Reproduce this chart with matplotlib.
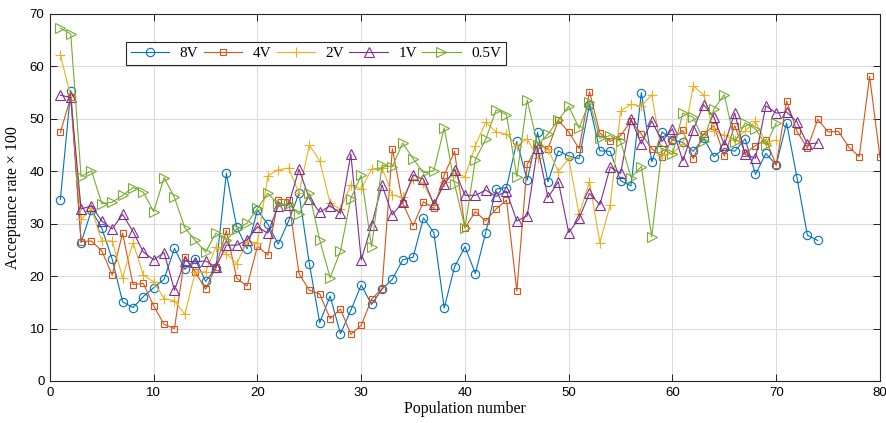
import numpy as np
import matplotlib
matplotlib.use("Agg")
import matplotlib.pyplot as plt

# Acceptance rate per population
labels = ["8V", "4V", "2V", "1V", "0.5V"]
colors = ["#0072BD", "#D95319", "#EDB120", "#7E2F8E", "#77AC30"]
markers = ["o", "s", "+", "^", ">"]
msizes = [6, 4.8, 6.5, 6.5, 6.5]

v8 = [34.6, 55.4, 26.4, 32.6, 29.1, 23.2, 15.1, 14.0, 16.1, 17.8,
      19.4, 25.3, 21.3, 23.2, 19.0, 21.5, 39.6, 29.4, 25.2, 32.6,
      29.9, 26.1, 30.5, 35.8, 22.4, 11.1, 16.2, 9.0, 13.5, 18.3,
      14.6, 17.5, 19.4, 23.1, 23.6, 31.1, 28.3, 13.9, 21.8, 25.6,
      20.5, 28.3, 36.6, 36.9, 45.7, 38.3, 47.4, 38.0, 43.9, 42.9,
      42.4, 52.7, 43.9, 43.8, 38.2, 37.2, 55.0, 41.8, 47.5, 46.0,
      45.5, 43.8, 46.3, 42.8, 44.4, 43.8, 46.2, 39.4, 43.4, 41.2,
      49.2, 38.8, 27.8, 26.8]

v4 = [47.4, 54.1, 26.6, 26.7, 24.8, 20.2, 28.2, 18.4, 18.6, 14.3,
      10.8, 10.0, 23.7, 20.8, 17.5, 21.8, 28.7, 19.6, 18.1, 25.7,
      24.0, 34.6, 34.6, 20.5, 17.3, 16.6, 11.9, 13.7, 8.9, 10.6,
      15.6, 17.6, 44.3, 33.9, 29.6, 34.2, 32.9, 39.3, 43.8, 29.2,
      32.3, 30.5, 32.8, 34.5, 17.2, 41.3, 45.0, 44.3, 49.7, 47.5,
      44.3, 55.2, 47.3, 45.7, 46.8, 49.6, 47.1, 44.3, 42.8, 46.0,
      47.8, 42.4, 47.1, 48.7, 42.9, 48.7, 43.4, 44.9, 46.0, 41.2,
      53.4, 47.6, 44.4, 49.9, 47.5, 47.6, 44.6, 42.8, 58.1, 42.7]

v2 = [62.2, 54.3, 30.8, 32.9, 26.7, 26.7, 19.7, 26.4, 20.2, 18.9,
      15.7, 15.3, 12.7, 20.8, 20.8, 25.6, 24.3, 22.4, 26.6, 26.4,
      39.1, 40.3, 40.6, 35.8, 45.0, 42.0, 33.9, 32.8, 37.4, 36.6,
      40.4, 40.7, 35.5, 35.0, 38.5, 37.7, 33.7, 37.9, 39.6, 39.0,
      44.9, 49.4, 47.5, 47.1, 44.8, 46.2, 42.5, 44.3, 39.9, 42.5,
      31.8, 38.0, 26.4, 33.6, 51.5, 52.8, 52.4, 54.6, 43.1, 43.4,
      45.2, 56.3, 54.6, 47.6, 46.9, 46.0, 47.7, 49.5, 45.4, 46.0]

v1 = [54.5, 54.1, 32.8, 33.4, 30.5, 29.0, 31.8, 28.5, 24.6, 23.1,
      24.5, 17.3, 22.9, 22.7, 22.9, 21.7, 25.9, 25.9, 26.9, 29.4,
      28.2, 33.4, 33.6, 40.4, 34.8, 32.2, 33.4, 32.0, 43.3, 23.1,
      29.7, 37.4, 31.7, 34.1, 39.3, 38.5, 33.7, 37.5, 40.3, 35.4,
      35.4, 36.4, 35.2, 36.2, 30.5, 31.5, 44.5, 35.0, 38.0, 28.3,
      31.0, 35.8, 33.6, 40.8, 39.6, 50.0, 45.2, 49.6, 45.7, 48.1,
      42.0, 47.9, 52.7, 50.3, 45.0, 51.1, 43.2, 42.5, 52.5, 51.1,
      51.3, 49.4, 45.2, 45.4]

v05 = [67.3, 66.2, 39.0, 40.1, 33.8, 34.1, 35.4, 36.9, 36.0, 32.3,
       38.8, 35.0, 29.2, 26.8, 24.6, 28.2, 26.9, 29.0, 30.1, 32.9,
       35.8, 33.7, 33.7, 31.8, 35.8, 26.9, 19.7, 24.8, 34.8, 39.2,
       25.6, 41.1, 40.9, 45.4, 42.4, 39.7, 40.1, 48.3, 37.5, 29.2,
       42.2, 46.1, 51.7, 50.8, 39.0, 53.6, 45.0, 47.1, 49.8, 52.4,
       48.2, 53.3, 46.3, 46.8, 45.7, 38.8, 40.9, 27.5, 44.4, 43.2,
       51.1, 50.3, 45.8, 51.9, 54.6, 45.5, 49.2, 48.1, 45.0, 49.2]

series = [v8, v4, v2, v1, v05]

serif = ["Liberation Serif", "DejaVu Serif"]
tickfont = ["Liberation Sans Narrow", "Liberation Sans", "DejaVu Sans"]

fig = plt.figure(figsize=(8.86, 4.23), dpi=100)
ax = fig.add_axes([0.0564, 0.0993, 0.9368, 0.8677])

for vals, lab, c, m, ms in zip(series, labels, colors, markers, msizes):
    x = np.arange(1, len(vals) + 1)
    ax.plot(x, vals, color=c, marker=m, markersize=ms,
            markerfacecolor="none", markeredgecolor=c, markeredgewidth=0.8,
            linewidth=0.8, label=lab)

ax.set_xlim(0, 80)
ax.set_ylim(0, 70)
ax.set_xticks(np.arange(0, 81, 10))
ax.set_yticks(np.arange(0, 71, 10))
ax.grid(True, color="#dcdcdc", linewidth=0.8)
ax.set_axisbelow(True)
ax.tick_params(direction="in", top=True, right=True, length=5, width=0.6,
               labelsize=9.5, pad=4)
for t in ax.get_xticklabels() + ax.get_yticklabels():
    t.set_family(tickfont)
for s in ax.spines.values():
    s.set_linewidth(0.8)
    s.set_color("#262626")

ax.set_xlabel("Population number", family=serif, fontsize=11.5, labelpad=2)
ax.set_ylabel("Acceptance rate \u00d7 100", family=serif, fontsize=11.5, labelpad=6)

leg = ax.legend(loc="upper left", bbox_to_anchor=(0.092, 0.924), ncol=5,
                prop={"family": serif, "size": 11}, fancybox=False,
                framealpha=1, edgecolor="#262626", borderpad=0.3,
                handlelength=2.5, handletextpad=0.7, columnspacing=0.35,
                borderaxespad=0)
leg.get_frame().set_linewidth(0.8)

fig.savefig("out.png", dpi=100)
